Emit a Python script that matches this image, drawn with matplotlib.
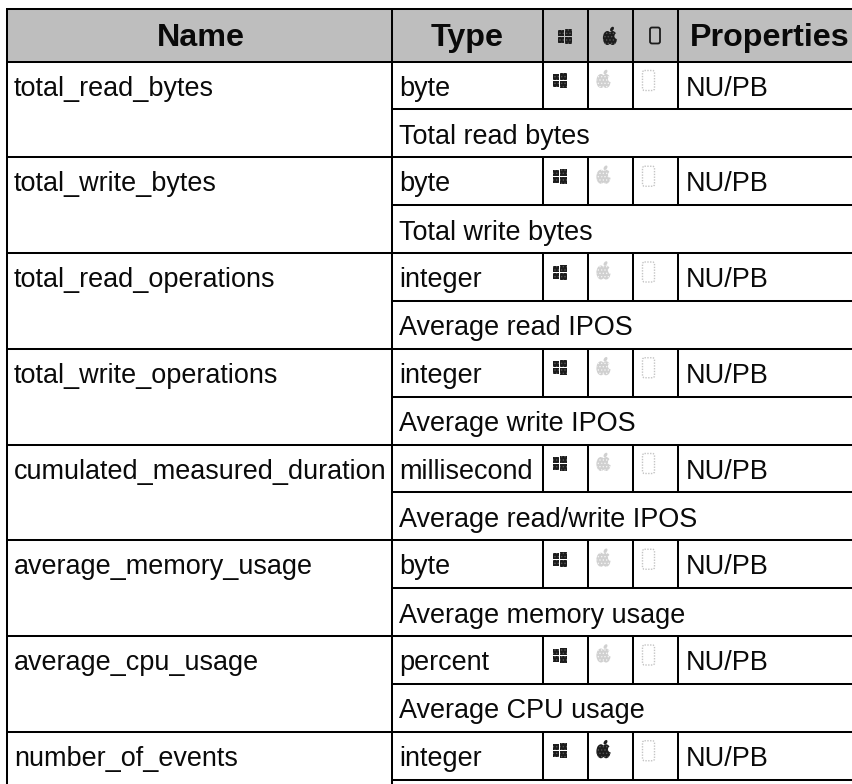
import matplotlib
matplotlib.use('Agg')
import matplotlib.pyplot as plt
from matplotlib.patches import Rectangle, Ellipse, FancyBboxPatch

plt.rcParams['font.family'] = ['Liberation Sans', 'DejaVu Sans']
plt.rcParams['hatch.linewidth'] = 0.6

headers = ['Name', 'Type', 'Properties']
names = ['total_read_bytes', 'total_write_bytes', 'total_read_operations', 'total_write_operations',
         'cumulated_measured_duration', 'average_memory_usage', 'average_cpu_usage', 'number_of_events']
types = ['byte', 'byte', 'integer', 'integer', 'millisecond', 'byte', 'percent', 'integer']
props = ['NU/PB'] * 8
descs = ['Total read bytes', 'Total write bytes', 'Average read IPOS', 'Average write IPOS',
         'Average read/write IPOS', 'Average memory usage', 'Average CPU usage', '']
win_on = [1, 1, 1, 1, 1, 1, 1, 1]
apple_on = [0, 0, 0, 0, 0, 0, 0, 1]
phone_on = [0, 0, 0, 0, 0, 0, 0, 0]

W, H = 853, 784
DARK = '#1c1c1c'
FADE = '#d0d0d0'

fig = plt.figure(figsize=(W / 100, H / 100), dpi=100)
ax = fig.add_axes([0, 0, 1, 1])
ax.set_xlim(0, W)
ax.set_ylim(H, 0)
ax.axis('off')

col_x = [7.5, 392.5, 543.5, 588.5, 633.5, 678.5]
top = 8.5
head_bot = 61.5
row_h = 95.75
lw = 1.45  # 2px


def hline(y, x0, x1=W):
    ax.plot([x0, x1], [y, y], color='black', lw=lw, solid_capstyle='butt', zorder=3)


def vline(x, y0, y1):
    ax.plot([x, x], [y0, y1], color='black', lw=lw, solid_capstyle='butt', zorder=3)


def dots(c):
    # the source icons are dithered, a fine hatch gets close
    return '#555555' if c == DARK else '#f4f4f4'


def windows(cx, cy, c):
    for dx, dy, w, h in [(-7, -6, 6, 6), (0, -7, 7, 7), (-7, 1, 6, 6), (0, 1, 7, 7)]:
        ax.add_patch(Rectangle((cx + dx, cy + dy), w, h, fc=c, ec=dots(c), lw=0, hatch='.....', zorder=2))


def apple(cx, cy, c, bg):
    ax.add_patch(Ellipse((cx - 2.6, cy + 1), 9, 14, fc=c, ec=dots(c), lw=0, hatch='.....', zorder=2))
    ax.add_patch(Ellipse((cx + 2.6, cy + 1), 9, 14, fc=c, ec=dots(c), lw=0, hatch='.....', zorder=2))
    ax.add_patch(Ellipse((cx + 7, cy - 1), 5, 6, fc=bg, ec='none', zorder=2.1))
    ax.add_patch(Ellipse((cx + 2, cy - 8), 3.2, 5, angle=35, fc=c, ec='none', zorder=2))


def phone(cx, cy, c, w, h, width, style='-'):
    ax.add_patch(FancyBboxPatch((cx - w / 2, cy - h / 2), w, h, boxstyle='round,pad=0,rounding_size=2',
                                fc='none', ec=c, lw=width, ls=style, zorder=2))


# header band
ax.add_patch(Rectangle((col_x[0], top), W - col_x[0], head_bot - top, fc='#bebebe', ec='none', zorder=1))
hline(top, col_x[0] - 1)
hline(head_bot, col_x[0] - 1)
for x in col_x:
    vline(x, top, head_bot)
hfont = dict(fontsize=23.2, fontweight='bold', va='baseline', ha='center', color='#0a0a0a')
ax.text(200.5, 45.5, headers[0], **hfont)
ax.text(467, 45.5, headers[1], **hfont)
ax.text(770, 45.5, headers[2], **hfont)
windows(565.5, 36, DARK)
apple(610, 37, DARK, '#bebebe')
phone(655, 35.5, DARK, 10, 16, 1.3)

# rows
for i, name in enumerate(names):
    y = head_bot + i * row_h
    mid = y + row_h / 2
    bot = y + row_h
    vline(col_x[0], y, bot)
    vline(col_x[1], y, bot)
    for x in col_x[2:]:
        vline(x, y, mid)
    hline(mid, col_x[1])
    if i < len(names) - 1:
        hline(bot, col_x[0])
    tf = dict(fontsize=19.45, va='baseline', ha='left', color='#0a0a0a')
    ax.text(14, y + 34.2, name, **tf)
    ax.text(399.5, y + 34.2, types[i], **tf)
    ax.text(686, y + 34.2, props[i], **tf)
    ax.text(399.5, mid + 34.5, descs[i], **tf)
    windows(560.5, y + 18.5, DARK if win_on[i] else FADE)
    apple(603.5, y + 18.5, DARK if apple_on[i] else FADE, 'white')
    phone(648.5, y + 19, DARK if phone_on[i] else '#c4c4c4', 12, 20, 1.0, '-' if phone_on[i] else (0, (1, 1)))

# last row runs off the bottom edge
bottom_y = head_bot + len(names) * row_h
vline(col_x[0], bottom_y, H)
vline(col_x[1], bottom_y - row_h / 2, H)

fig.savefig('out.png', dpi=100)
